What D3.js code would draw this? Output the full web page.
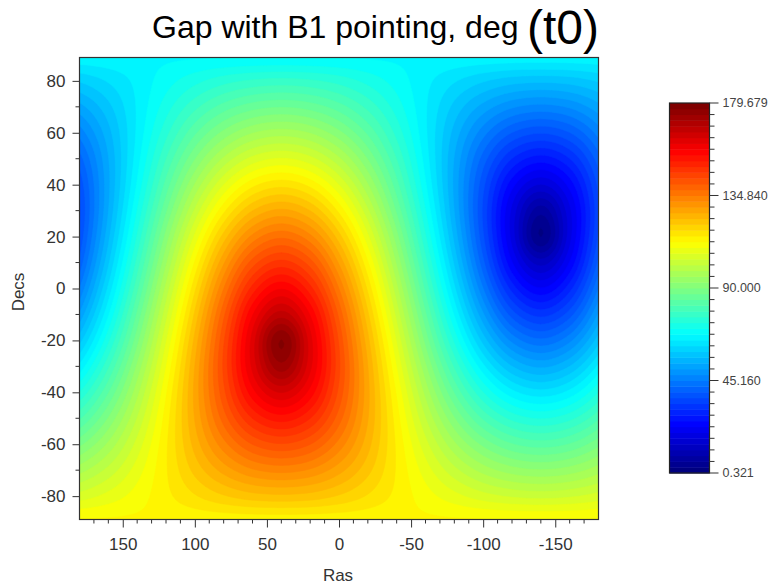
<!DOCTYPE html>
<html><head><meta charset="utf-8">
<script src="https://cdn.jsdelivr.net/npm/d3@7"></script>
<style>
body{margin:0;background:#fff}
text{font-family:"Liberation Sans",Arial,Helvetica,sans-serif}
</style>
</head><body>
<svg id="chart" width="777" height="585"></svg>
<script>
// ---- data ----
const raGrid  = [180,160,140,120,100,80,60,40,20,0,-20,-40,-60,-80,-100,-120,-140,-160,-180];
const decGrid = [90,80,70,60,50,40,30,20,10,0,-10,-20,-30,-40,-50,-60,-70,-80,-90];
const gapDec90  = [67.0,67.0,67.0,67.0,67.0,67.0,67.0,67.0,67.0,67.0,67.0,67.0,67.0,67.0,67.0,67.0,67.0,67.0,67.0];
const gapDec80  = [59.5,62.3,65.6,69.1,72.2,74.8,76.4,77.0,76.4,74.8,72.2,69.1,65.6,62.3,59.5,57.6,57.0,57.6,59.5];
const gapDec70  = [52.5,58.3,65.1,71.8,77.9,82.8,85.9,87.0,85.9,82.8,77.9,71.8,65.1,58.3,52.5,48.4,47.0,48.4,52.5];
const gapDec60  = [46.3,55.3,65.3,75.0,83.8,90.8,95.4,97.0,95.4,90.8,83.8,75.0,65.3,55.3,46.3,39.5,37.0,39.5,46.3];
const gapDec50  = [41.1,53.4,66.3,78.7,89.8,98.9,104.9,107.0,104.9,98.9,89.8,78.7,66.3,53.4,41.1,31.1,27.0,31.1,41.1];
const gapDec40  = [37.6,52.8,68.0,82.6,95.8,106.8,114.3,117.0,114.3,106.8,95.8,82.6,68.0,52.8,37.6,23.9,17.0,23.9,37.6];
const gapDec30  = [36.2,53.5,70.5,86.7,101.7,114.5,123.6,127.0,123.6,114.5,101.7,86.7,70.5,53.5,36.2,19.2,7.0,19.2,36.2];
const gapDec20  = [37.2,55.5,73.5,91.0,107.4,122.0,132.8,137.0,132.8,122.0,107.4,91.0,73.5,55.5,37.2,18.8,3.0,18.8,37.2];
const gapDec10  = [40.3,58.6,77.0,95.1,112.7,128.8,141.7,147.0,141.7,128.8,112.7,95.1,77.0,58.6,40.3,23.0,13.0,23.0,40.3];
const gapDec0   = [45.2,62.6,80.8,99.2,117.4,134.8,149.9,157.0,149.9,134.8,117.4,99.2,80.8,62.6,45.2,30.1,23.0,30.1,45.2];
const gapDecM10 = [51.2,67.3,84.9,103.0,121.4,139.7,157.0,167.0,157.0,139.7,121.4,103.0,84.9,67.3,51.2,38.3,33.0,38.3,51.2];
const gapDecM20 = [58.0,72.6,89.0,106.5,124.5,142.8,161.2,177.0,161.2,142.8,124.5,106.5,89.0,72.6,58.0,47.2,43.0,47.2,58.0];
const gapDecM30 = [65.5,78.3,93.3,109.5,126.5,143.8,160.8,173.0,160.8,143.8,126.5,109.5,93.3,78.3,65.5,56.4,53.0,56.4,65.5];
const gapDecM40 = [73.2,84.2,97.4,112.0,127.2,142.4,156.1,163.0,156.1,142.4,127.2,112.0,97.4,84.2,73.2,65.7,63.0,65.7,73.2];
const gapDecM50 = [81.1,90.2,101.3,113.7,126.6,138.9,148.9,153.0,148.9,138.9,126.6,113.7,101.3,90.2,81.1,75.1,73.0,75.1,81.1];
const gapDecM60 = [89.2,96.2,105.0,114.7,124.7,133.7,140.5,143.0,140.5,133.7,124.7,114.7,105.0,96.2,89.2,84.6,83.0,84.6,89.2];
const gapDecM70 = [97.2,102.1,108.2,114.9,121.7,127.5,131.6,133.0,131.6,127.5,121.7,114.9,108.2,102.1,97.2,94.1,93.0,94.1,97.2];
const gapDecM80 = [105.2,107.8,110.9,114.4,117.7,120.5,122.4,123.0,122.4,120.5,117.7,114.4,110.9,107.8,105.2,103.6,103.0,103.6,105.2];
const gapDecM90 = [113.0,113.0,113.0,113.0,113.0,113.0,113.0,113.0,113.0,113.0,113.0,113.0,113.0,113.0,113.0,113.0,113.0,113.0,113.0];
const gapRows = [gapDec90,gapDec80,gapDec70,gapDec60,gapDec50,gapDec40,gapDec30,gapDec20,gapDec10,gapDec0,
                 gapDecM10,gapDecM20,gapDecM30,gapDecM40,gapDecM50,gapDecM60,gapDecM70,gapDecM80,gapDecM90];
const colorMin = 0.321, colorMax = 179.679;
const colorbarTicks = [0.321, 45.160, 90.000, 134.840, 179.679];
const xTicks = [150,100,50,0,-50,-100,-150];
const yTicks = [-80,-60,-40,-20,0,20,40,60,80];
const nLevels = 64;

// ---- layout ----
const svg = d3.select("#chart");
const plot = {x0:79.5, x1:598.5, y0:57.5, y1:519.5};
const xScale = d3.scaleLinear().domain([180,-180]).range([plot.x0, plot.x1]);
const yScale = d3.scaleLinear().domain([89,-89]).range([plot.y0, plot.y1]);

function jet(t){
  const c = v => Math.max(0, Math.min(1, v));
  const r = c(1.5 - Math.abs(4*t - 3)), g = c(1.5 - Math.abs(4*t - 2)), b = c(1.5 - Math.abs(4*t - 1));
  return d3.rgb(r*255, g*255, b*255).toString();
}
const levelColor = k => jet(k/(nLevels-1));

// ---- smooth rendering grid (Catmull-Rom resampling of the read grid) ----
const F = 8;
const nCol = raGrid.length, nRow = decGrid.length, period = nCol - 1;
function cr(p0,p1,p2,p3,t){return 0.5*((2*p1)+(-p0+p2)*t+(2*p0-5*p1+4*p2-p3)*t*t+(-p0+3*p1-3*p2+p3)*t*t*t);}
const getV = (j,i) => gapRows[Math.max(0,Math.min(nRow-1,j))][((i%period)+period)%period];
const NX = (nCol-1)*F+1, NY = (nRow-1)*F+1;
const stepRA = (raGrid[1]-raGrid[0])/F, stepDec = (decGrid[1]-decGrid[0])/F;
const rowsX = [];
for (let j=-1;j<=nRow;j++){
  const arr = new Array(NX);
  for (let u=0;u<NX;u++){
    const i = Math.floor(u/F), t = (u%F)/F;
    arr[u] = cr(getV(j,i-1),getV(j,i),getV(j,i+1),getV(j,i+2),t);
  }
  rowsX.push(arr);
}
const rx = j => rowsX[Math.max(0,Math.min(nRow-1,j))+1];
const fine = new Float64Array(NX*NY);
for (let v=0;v<NY;v++){
  const j = Math.floor(v/F), t = (v%F)/F;
  const a=rx(j-1), b=rx(j), c=rx(j+1), d=rx(j+2);
  for (let u=0;u<NX;u++) fine[v*NX+u] = cr(a[u],b[u],c[u],d[u],t);
}

const thresholds = d3.range(nLevels).map(k => colorMin + k*(colorMax-colorMin)/nLevels);
const contours = d3.contours().size([NX,NY]).thresholds(thresholds)(fine);
const proj = d3.geoTransform({point(u,v){
  this.stream.point(xScale(raGrid[0] + (u-0.5)*stepRA), yScale(decGrid[0] + (v-0.5)*stepDec));
}});
const path = d3.geoPath(proj);

svg.append("clipPath").attr("id","clip").append("rect")
  .attr("x",plot.x0).attr("y",plot.y0).attr("width",plot.x1-plot.x0).attr("height",plot.y1-plot.y0);
const g = svg.append("g").attr("clip-path","url(#clip)");
g.append("rect").attr("x",plot.x0).attr("y",plot.y0).attr("width",plot.x1-plot.x0).attr("height",plot.y1-plot.y0)
  .attr("fill",levelColor(0));
g.selectAll("path.band").data(contours).join("path").attr("class","band")
  .attr("d",path).attr("fill",(d,i)=>levelColor(i)).attr("stroke",(d,i)=>levelColor(i)).attr("stroke-width",0.5);

// ---- axes ----
const axisColor = "#333";
const fmt = d => String(d);
const xMinor = d3.range(170,-180,-10).filter(v=>!xTicks.includes(v));
const yMinor = d3.range(-80,90,10).filter(v=>!yTicks.includes(v));
const xAxis = svg.append("g").attr("transform",`translate(0,${plot.y1})`);
xAxis.call(d3.axisBottom(xScale).tickValues(xTicks).tickSize(8).tickPadding(10).tickFormat(fmt));
xAxis.append("g").selectAll("line").data(xMinor).join("line")
  .attr("x1",d=>xScale(d)).attr("x2",d=>xScale(d)).attr("y1",0).attr("y2",4).attr("stroke",axisColor);
const yAxis = svg.append("g").attr("transform",`translate(${plot.x0},0)`);
yAxis.call(d3.axisLeft(yScale).tickValues(yTicks).tickSize(7).tickPadding(7).tickFormat(fmt));
yAxis.append("g").selectAll("line").data(yMinor).join("line")
  .attr("y1",d=>yScale(d)).attr("y2",d=>yScale(d)).attr("x1",0).attr("x2",-4).attr("stroke",axisColor);
[xAxis,yAxis].forEach(a=>{
  a.select(".domain").remove();
  a.selectAll(".tick line").attr("stroke",axisColor);
  a.selectAll(".tick text").attr("fill","#333").style("font-size","17px").style("font-family",'"Liberation Sans",Arial,sans-serif');
});
svg.append("rect").attr("x",plot.x0).attr("y",plot.y0).attr("width",plot.x1-plot.x0).attr("height",plot.y1-plot.y0)
  .attr("fill","none").attr("stroke",axisColor).attr("stroke-width",1.2);

svg.append("text").attr("x",338).attr("y",581).attr("text-anchor","middle").attr("fill","#333")
  .style("font-size","17px").text("Ras");
svg.append("text").attr("transform","translate(24,292) rotate(-90)").attr("text-anchor","middle").attr("fill","#333")
  .style("font-size","17px").text("Decs");

// ---- title ----
svg.append("text").attr("x",152).attr("y",38).attr("fill","#000").style("font-size","32px").text("Gap with B1 pointing, deg");
svg.append("text").attr("x",527).attr("y",44).attr("fill","#000").style("font-size","48px").text("(t0)");

// ---- colorbar ----
const cb = {x:669.5, w:40, y0:103, y1:473};
const cScale = d3.scaleLinear().domain([colorMin,colorMax]).range([cb.y1,cb.y0]);
const bandH = (cb.y1-cb.y0)/nLevels;
svg.append("g").selectAll("rect").data(d3.range(nLevels)).join("rect")
  .attr("x",cb.x).attr("width",cb.w)
  .attr("y",k=>cb.y1-(k+1)*bandH).attr("height",bandH+0.5)
  .attr("fill",k=>levelColor(k));
svg.append("rect").attr("x",cb.x).attr("y",cb.y0).attr("width",cb.w).attr("height",cb.y1-cb.y0)
  .attr("fill","none").attr("stroke","#222").attr("stroke-width",1.2);
const cbMinor = [];
for (let i=0;i<colorbarTicks.length-1;i++){
  for (let m=1;m<8;m++) cbMinor.push(colorbarTicks[i] + m*(colorbarTicks[i+1]-colorbarTicks[i])/8);
}
const cbG = svg.append("g");
cbG.selectAll("line.maj").data(colorbarTicks).join("line").attr("class","maj")
  .attr("x1",cb.x+cb.w).attr("x2",cb.x+cb.w+9).attr("y1",d=>cScale(d)).attr("y2",d=>cScale(d)).attr("stroke","#333");
cbG.selectAll("line.min").data(cbMinor).join("line").attr("class","min")
  .attr("x1",cb.x+cb.w).attr("x2",cb.x+cb.w+5).attr("y1",d=>cScale(d)).attr("y2",d=>cScale(d)).attr("stroke","#333");
cbG.selectAll("text").data(colorbarTicks).join("text")
  .attr("x",cb.x+cb.w+13).attr("y",d=>cScale(d)).attr("dy","0.35em").attr("fill","#444")
  .style("font-size","12.5px").text(d=>d3.format(".3f")(d));
</script>
</body></html>
